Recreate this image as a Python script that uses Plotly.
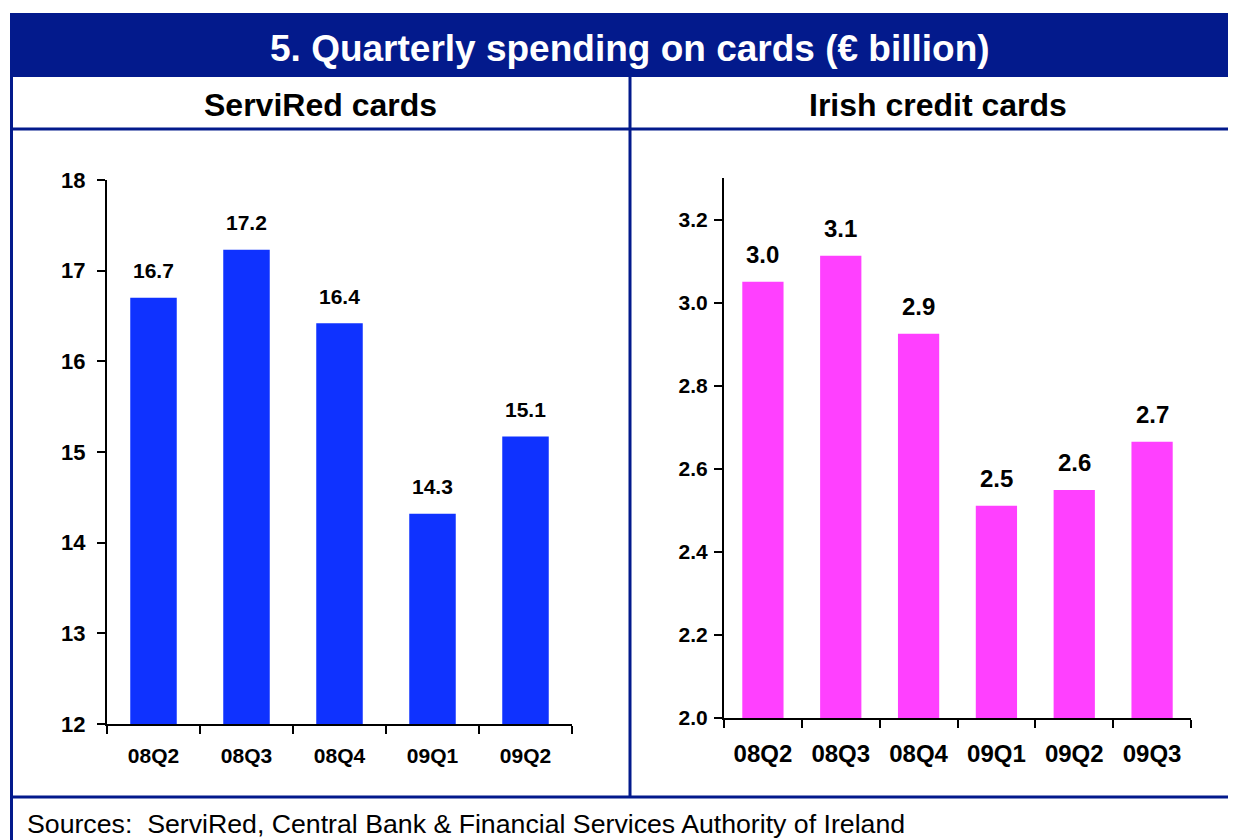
import plotly.graph_objects as go

# ── Data ──────────────────────────────────────────────────────────────────────
SERVIRED_QUARTERS = ["08Q2", "08Q3", "08Q4", "09Q1", "09Q2"]
SERVIRED_VALUES = [16.70, 17.23, 16.42, 14.32, 15.17]
SERVIRED_LABELS = ["16.7", "17.2", "16.4", "14.3", "15.1"]

IRISH_QUARTERS = ["08Q2", "08Q3", "08Q4", "09Q1", "09Q2", "09Q3"]
IRISH_VALUES = [3.05, 3.113, 2.925, 2.511, 2.549, 2.665]
IRISH_LABELS = ["3.0", "3.1", "2.9", "2.5", "2.6", "2.7"]

LEFT_TICKS = [12, 13, 14, 15, 16, 17, 18]
RIGHT_TICKS = [2.0, 2.2, 2.4, 2.6, 2.8, 3.0, 3.2]

TITLE = "5. Quarterly spending on cards (€ billion)"
SUBTITLES = ["ServiRed cards", "Irish credit cards"]
SOURCE = "Sources:  ServiRed, Central Bank & Financial Services Authority of Ireland"

# ── Style ─────────────────────────────────────────────────────────────────────
NAVY = "#031A8C"
BLUE = "#0F32FF"
MAGENTA = "#FF40FF"
FONT = "Arial, Liberation Sans, sans-serif"

# the page puts the figure at (8, 8), so screen pixels are shifted by 8
OFF, PW, PH = 8, 1236, 840


def fx(x):
    return (x - OFF) / PW


def fy(y):
    return 1 - (y - OFF) / PH


def bold(size, color="black"):
    return dict(size=size, color=color, family=FONT, weight="bold")


fig = go.Figure()

fig.add_trace(go.Bar(
    x=SERVIRED_QUARTERS, y=SERVIRED_VALUES, marker_color=BLUE, width=0.5,
    marker_line_width=0, xaxis="x", yaxis="y", hoverinfo="x+y",
))
fig.add_trace(go.Bar(
    x=IRISH_QUARTERS, y=IRISH_VALUES, marker_color=MAGENTA, width=0.53,
    marker_line_width=0, xaxis="x2", yaxis="y2", hoverinfo="x+y",
))

annotations = []
for q, v, t in zip(SERVIRED_QUARTERS, SERVIRED_VALUES, SERVIRED_LABELS):
    annotations.append(dict(x=q, y=v, xref="x", yref="y", text=t, showarrow=False,
                            xanchor="center", yanchor="middle", yshift=27, font=bold(21)))
for q, v, t in zip(IRISH_QUARTERS, IRISH_VALUES, IRISH_LABELS):
    annotations.append(dict(x=q, y=v, xref="x2", yref="y2", text=t, showarrow=False,
                            xanchor="center", yanchor="middle", yshift=27, font=bold(24)))

# title, panel headings, source
annotations += [
    dict(x=fx(630), y=fy(48), text=TITLE, font=bold(37, "white")),
    dict(x=fx(320), y=fy(105), text=SUBTITLES[0], font=bold(32)),
    dict(x=fx(938), y=fy(105), text=SUBTITLES[1], font=bold(32)),
]
for a in annotations[-3:]:
    a.update(xref="paper", yref="paper", showarrow=False, xanchor="center", yanchor="middle")
annotations.append(dict(x=fx(25), y=fy(824), xref="paper", yref="paper", text=SOURCE,
                        xanchor="left", yanchor="middle", showarrow=False,
                        font=dict(size=26.7, color="black", family=FONT)))

line = dict(color=NAVY, width=3)
shapes = [
    dict(type="rect", x0=fx(10), x1=1, y0=fy(77), y1=fy(13), fillcolor=NAVY, line_width=0),
    dict(type="line", x0=fx(11.5), x1=fx(11.5), y0=fy(77), y1=0, line=line),
    dict(type="line", x0=fx(10), x1=1, y0=fy(129), y1=fy(129), line=line),
    dict(type="line", x0=fx(630), x1=fx(630), y0=fy(77), y1=fy(797), line=line),
    dict(type="line", x0=fx(10), x1=1, y0=fy(797), y1=fy(797), line=line),
]
for s in shapes:
    s.update(xref="paper", yref="paper", layer="below")

axis_common = dict(showgrid=False, zeroline=False, showline=True, linecolor="black", linewidth=2,
                   ticks="outside", tickcolor="black", tickwidth=2, ticklen=8,
                   fixedrange=True, automargin=False)

fig.update_layout(
    width=1236, height=840,
    margin=dict(l=0, r=0, t=0, b=0, autoexpand=False),
    paper_bgcolor="white", plot_bgcolor="white",
    showlegend=False,
    font=dict(family=FONT, color="black"),
    xaxis=dict(domain=[fx(107), fx(572)], anchor="y", tickson="boundaries",
               ticklabelstandoff=12, tickfont=bold(21), **axis_common),
    yaxis=dict(domain=[fy(724), fy(180)], anchor="x", range=[12, 18], tickvals=LEFT_TICKS,
               ticklabelstandoff=7, tickfont=bold(22), **axis_common),
    xaxis2=dict(domain=[fx(724), fx(1191)], anchor="y2", tickson="boundaries",
                ticklabelstandoff=13, tickfont=bold(24), **axis_common),
    yaxis2=dict(domain=[fy(718), fy(178)], anchor="x2", range=[2.0, 3.3], tickvals=RIGHT_TICKS,
                tickformat=".1f", ticklabelstandoff=2, tickfont=bold(21), **axis_common),
    annotations=annotations,
    shapes=shapes,
)

fig.write_html("out.html")
